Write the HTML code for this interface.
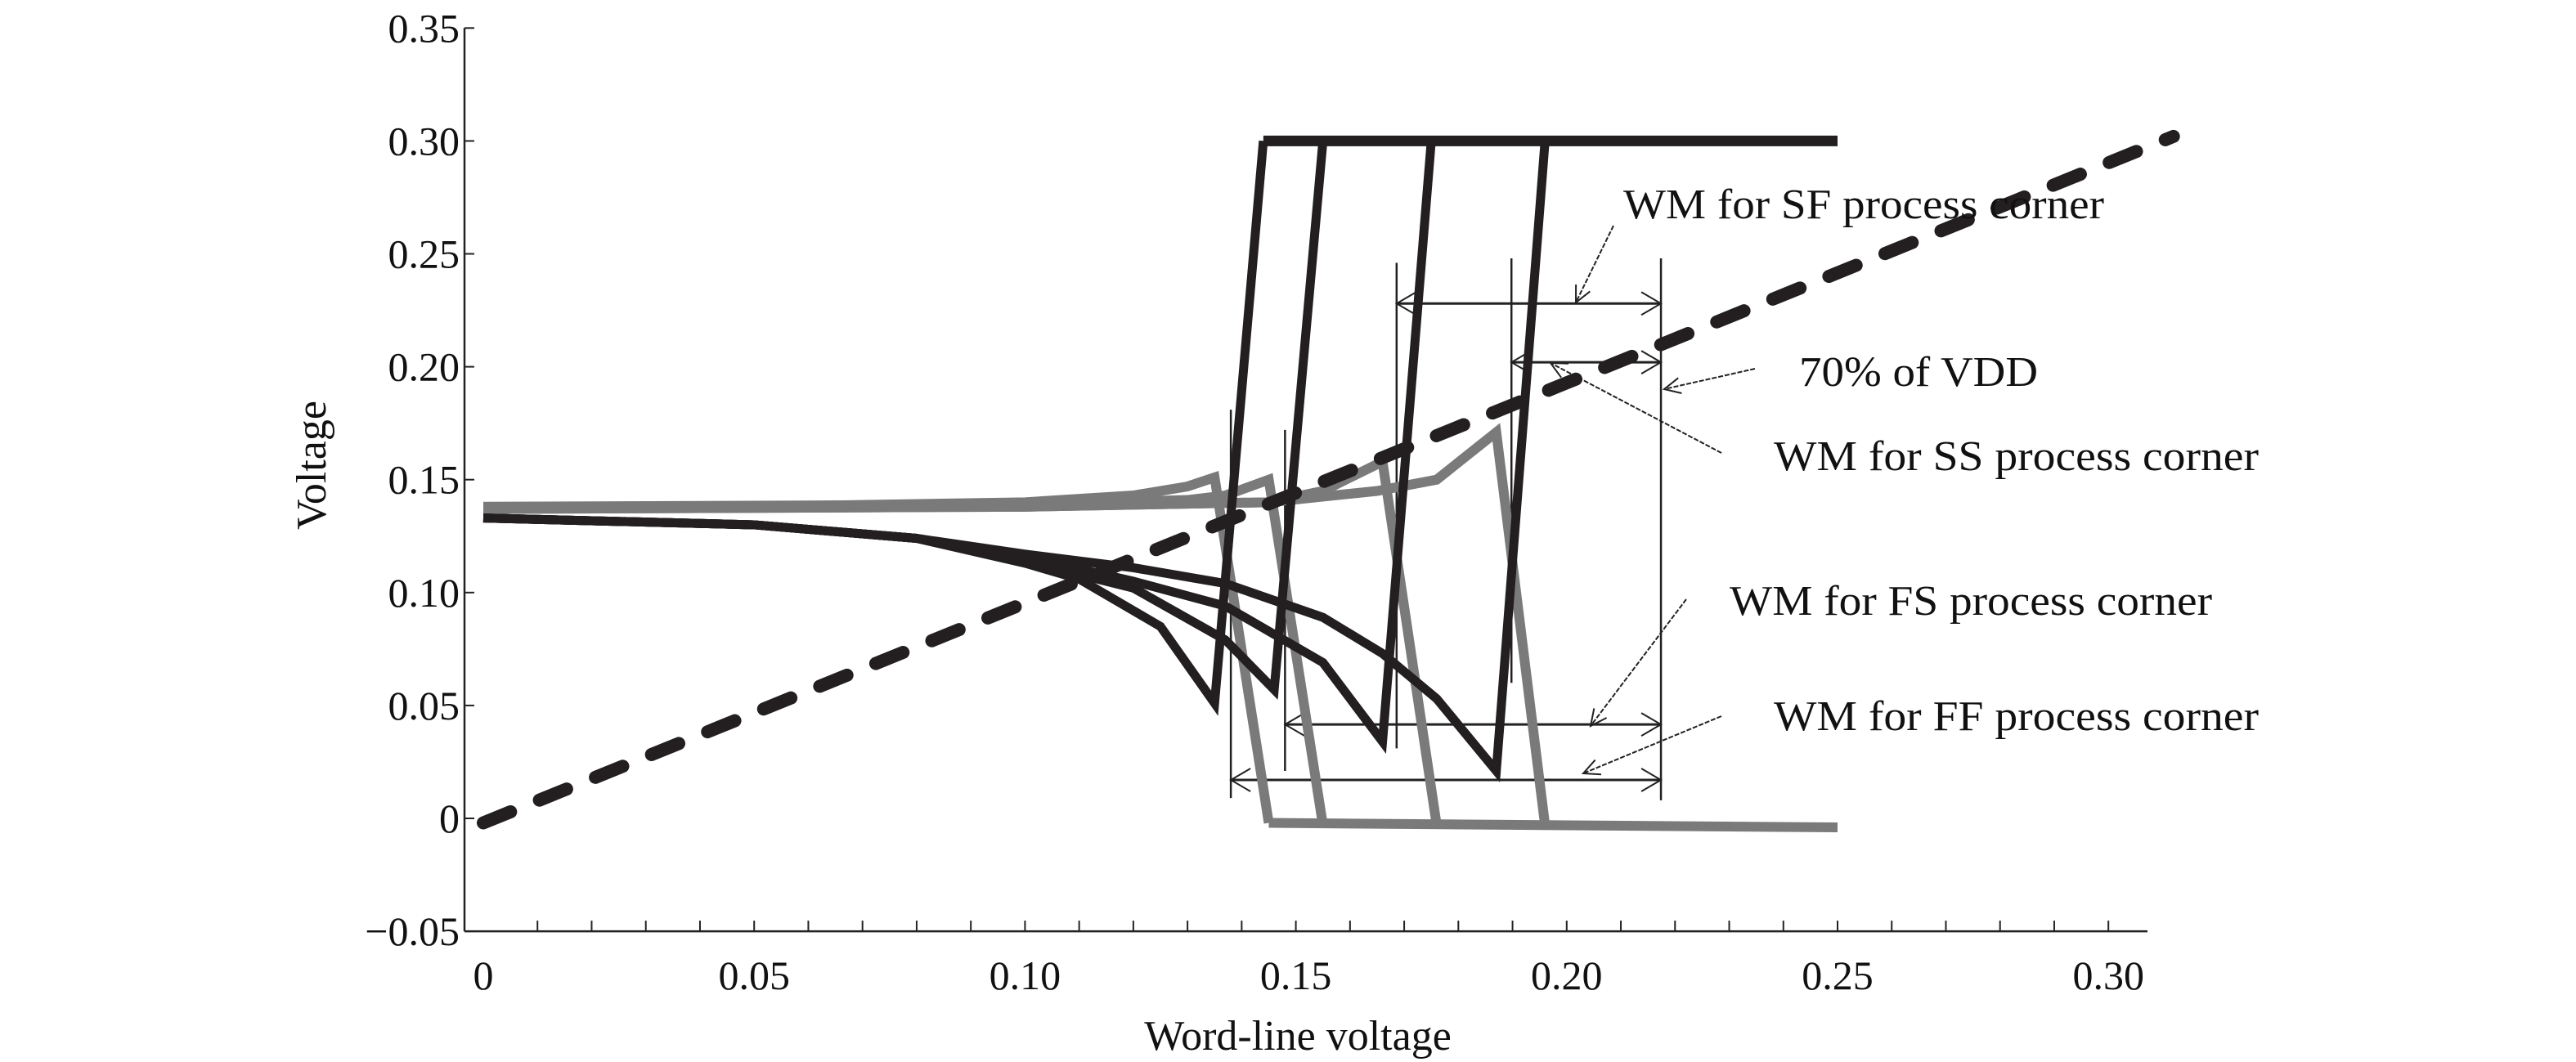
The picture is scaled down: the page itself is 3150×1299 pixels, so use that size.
<!DOCTYPE html>
<html><head><meta charset="utf-8"><style>
html,body{margin:0;padding:0;background:#fff}
svg{display:block}
text{font-family:"Liberation Serif",serif;fill:#111}
</style></head><body>
<svg id="chart" width="3150" height="1299" viewBox="0 0 3150 1299" xmlns="http://www.w3.org/2000/svg">
<g id="axes"></g>
<g id="annot"></g>
<g id="series"></g>
<g id="labels"></g>
</svg>
<script>
const xTicks = [0,0.05,0.10,0.15,0.20,0.25,0.30];
const xTickLabels = ["0","0.05","0.10","0.15","0.20","0.25","0.30"];
const yTicks = [-0.05,0,0.05,0.10,0.15,0.20,0.25,0.30,0.35];
const yTickLabels = ["\u22120.05","0","0.05","0.10","0.15","0.20","0.25","0.30","0.35"];
const dashedX = [0,0.312];
const dashedY = [-0.002,0.302];
const black1 = [[0,.133],[.05,.130],[.08,.124],[.1,.113],[.11,.106],[.12,.092],[.125,.085],[.135,.051],[.144,.30]];
const black2 = [[0,.133],[.05,.130],[.08,.124],[.1,.114],[.12,.102],[.137,.079],[.146,.057],[.155,.30]];
const black3 = [[0,.133],[.05,.130],[.08,.124],[.1,.116],[.12,.105],[.137,.094],[.155,.069],[.166,.034],[.175,.30]];
const black4 = [[0,.133],[.05,.130],[.08,.124],[.1,.117],[.12,.111],[.137,.104],[.155,.089],[.166,.073],[.176,.053],[.187,.021],[.196,.30]];
const blackTop = [[.144,.30],[.25,.30]];
const grey1 = [[0,.138],[.05,.138],[.1,.14],[.12,.143],[.13,.147],[.135,.151],[.145,-.002]];
const grey2 = [[0,.138],[.1,.139],[.13,.141],[.137,.143],[.145,.150],[.155,-.003]];
const grey3 = [[0,.137],[.1,.138],[.145,.140],[.155,.145],[.166,.158],[.176,-.003]];
const grey4 = [[0,.137],[.1,.138],[.145,.140],[.165,.145],[.176,.150],[.187,.171],[.196,-.003]];
const greyBottom = [[.145,-.002],[.25,-.004]];

const X0=591, XS=6624, Y0=1001, YS=2762;
const sx = v => X0 + v*XS;
const sy = v => Y0 - v*YS;
const NS="http://www.w3.org/2000/svg";
function mk(tag, parent, attrs){const e=document.createElementNS(NS,tag);for(const k in attrs)e.setAttribute(k,attrs[k]);parent.appendChild(e);return e;}
const axes=document.getElementById('axes'), series=document.getElementById('series'), annot=document.getElementById('annot'), labels=document.getElementById('labels');

let a=mk('line',axes,{x1:568,y1:sy(0.35),x2:568,y2:sy(-0.05),stroke:'#222','stroke-width':2.5});


a=mk('line',axes,{x1:568,y1:sy(-0.05),x2:2626,y2:sy(-0.05),stroke:'#222','stroke-width':2.5});


for(let i=1;i<=30;i++){
  const t=mk('line',axes,{x1:sx(i/100),y1:sy(-0.05),x2:sx(i/100),y2:sy(-0.05)-13,stroke:'#222','stroke-width':2});
  
  
}
xTicks.forEach((v,i)=>{
  const t=mk('text',labels,{x:sx(v),y:1210,'font-size':50,'text-anchor':'middle'});
  t.textContent=xTickLabels[i];
  
  
});
yTicks.forEach((v,i)=>{
  const tk=mk('line',axes,{x1:568,y1:sy(v),x2:580,y2:sy(v),stroke:'#222','stroke-width':2});
  
  
  const t=mk('text',labels,{x:562,y:sy(v)+17,'font-size':50,'text-anchor':'end'});
  t.textContent=yTickLabels[i];
  
  
});
let tt=mk('text',labels,{x:1587,y:1284,'font-size':52,'text-anchor':'middle'});
tt.textContent='Word-line voltage';


tt=mk('text',labels,{x:0,y:0,'font-size':52,'text-anchor':'middle',transform:'translate(398,569) rotate(-90)'});
tt.textContent='Voltage';



const vLines=[[.138,.181,.009],[.148,.172,.021],[.1686,.246,.031],[.1898,.248,.060],[.2174,.248,.008]];
vLines.forEach(d=>{
  const l=mk('line',annot,{x1:sx(d[0]),y1:sy(d[1]),x2:sx(d[0]),y2:sy(d[2]),stroke:'#222','stroke-width':2.5});
  
  
});
const hLines=[[.228,.1686,.2174],[.202,.1898,.2174],[.0416,.148,.2174],[.017,.138,.2174]];
hLines.forEach(d=>{
  const y=sy(d[0]),x1=sx(d[1]),x2=sx(d[2]);
  const l=mk('line',annot,{x1:x1,y1:y,x2:x2,y2:y,stroke:'#222','stroke-width':3});
  
  
  mk('path',annot,{d:`M${x1+24},${y-14} L${x1},${y} L${x1+24},${y+14} M${x2-24},${y-14} L${x2},${y} L${x2-24},${y+14}`,fill:'none',stroke:'#222','stroke-width':2});
});
const leaders=[[1973,276,1927,370],[2146,451,2035,476],[2105,554,1896,444],[2062,733,1945,888],[2105,876,1936,946]];
leaders.forEach(d=>{
  const l=mk('line',annot,{x1:d[0],y1:d[1],x2:d[2],y2:d[3],stroke:'#222','stroke-width':2,'stroke-dasharray':'6 2'});
  
  
  const ang=Math.atan2(d[1]-d[3],d[0]-d[2]);
  const p=(da)=>[d[2]+22*Math.cos(ang+da),d[3]+22*Math.sin(ang+da)];
  const p1=p(0.45),p2=p(-0.45);
  mk('path',annot,{d:`M${p1[0]},${p1[1]} L${d[2]},${d[3]} L${p2[0]},${p2[1]}`,fill:'none',stroke:'#222','stroke-width':2});
});

function poly(pts,color,w,name){
  const p=mk('polyline',series,{points:pts.map(q=>sx(q[0])+','+sy(q[1])).join(' '),fill:'none',stroke:color,'stroke-width':w,'stroke-linejoin':'miter','stroke-miterlimit':3});
  
  
}
const G='#7a7a7a', B='#231f20';
poly(grey1,G,12,'grey-curve-1');poly(grey2,G,12,'grey-curve-2');poly(grey3,G,12,'grey-curve-3');poly(grey4,G,12,'grey-curve-4');
poly(greyBottom,G,12,'grey-bottom');
poly(black1,B,11,'black-curve-1');poly(black2,B,11,'black-curve-2');poly(black3,B,11,'black-curve-3');poly(black4,B,11,'black-curve-4');
poly(blackTop,B,13,'black-top');
const dl=mk('line',series,{x1:sx(dashedX[0]),y1:sy(dashedY[0]),x2:sx(dashedX[1]),y2:sy(dashedY[1]),stroke:B,'stroke-width':16,'stroke-dasharray':'36 38','stroke-linecap':'round'});



const notes=[["WM for SF process corner",1985,267,588],["70% of VDD",2200,472,292],["WM for SS process corner",2169,575,593],["WM for FS process corner",2115,752,590],["WM for FF process corner",2169,893,593]];
notes.forEach(n=>{
  const t=mk('text',labels,{x:n[1],y:n[2],'font-size':52,textLength:n[3],lengthAdjust:'spacingAndGlyphs'});
  t.textContent=n[0];
  
  
});
</script>
</body></html>
